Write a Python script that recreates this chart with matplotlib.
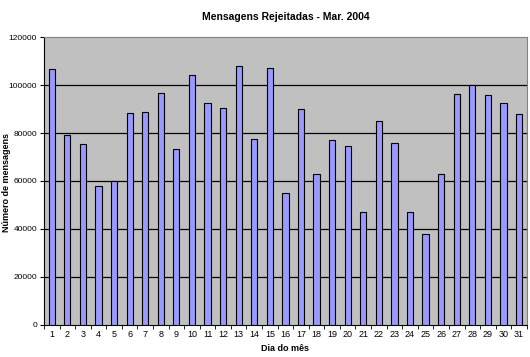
import matplotlib.pyplot as plt
import numpy as np

plt.rcParams['font.family'] = ['Liberation Sans', 'DejaVu Sans']

# Data
dias = list(range(1, 32))
mensagens = [106700, 79200, 75500, 58000, 60000, 88300, 88700, 96500,
             73300, 104300, 92700, 90500, 107800, 77500, 107000, 55000,
             90000, 63000, 77300, 74500, 47000, 85000, 76000, 47000,
             37800, 63000, 96200, 100000, 96000, 92500, 88000]
yticks = [0, 20000, 40000, 60000, 80000, 100000, 120000]

fig = plt.figure(figsize=(5.3, 3.57), dpi=100)
ax = fig.add_axes([0.083, 0.09, 0.911, 0.806])
ax.set_facecolor('#C0C0C0')

x = np.arange(len(dias))
ax.bar(x, mensagens, width=0.4, color='#9999FF', edgecolor='black', linewidth=0.8, zorder=3)

# grid
for v in yticks[1:-1]:
       ax.axhline(v, color='black', linewidth=0.9, zorder=1)

ax.set_xlim(-0.5, len(dias) - 0.5)
ax.set_ylim(0, 120000)
ax.set_yticks(yticks)
ax.set_yticklabels([str(v) for v in yticks], fontsize=6)
ax.set_xticks(x)
ax.set_xticklabels([str(d) for d in dias], fontsize=6.5)
ax.set_xticks(np.arange(-0.5, len(dias)), minor=True)
ax.tick_params(axis='x', which='major', length=0, pad=4)
ax.tick_params(axis='x', which='minor', length=3, color='black')
ax.tick_params(axis='y', length=3, color='black', pad=2)

for s in ['top', 'right']:
       ax.spines[s].set_color('#808080')
for s in ['left', 'bottom']:
       ax.spines[s].set_color('black')

ax.set_title('Mensagens Rejeitadas - Mar. 2004', fontsize=7.5, fontweight='bold', pad=12)
ax.set_xlabel('Dia do mês', fontsize=6.5, fontweight='bold', labelpad=3)
fig.text(0.012, 0.49, 'Número de mensagens', fontsize=6.5, fontweight='bold',
         rotation=90, ha='center', va='center')

fig.savefig('out.png', dpi=100)
